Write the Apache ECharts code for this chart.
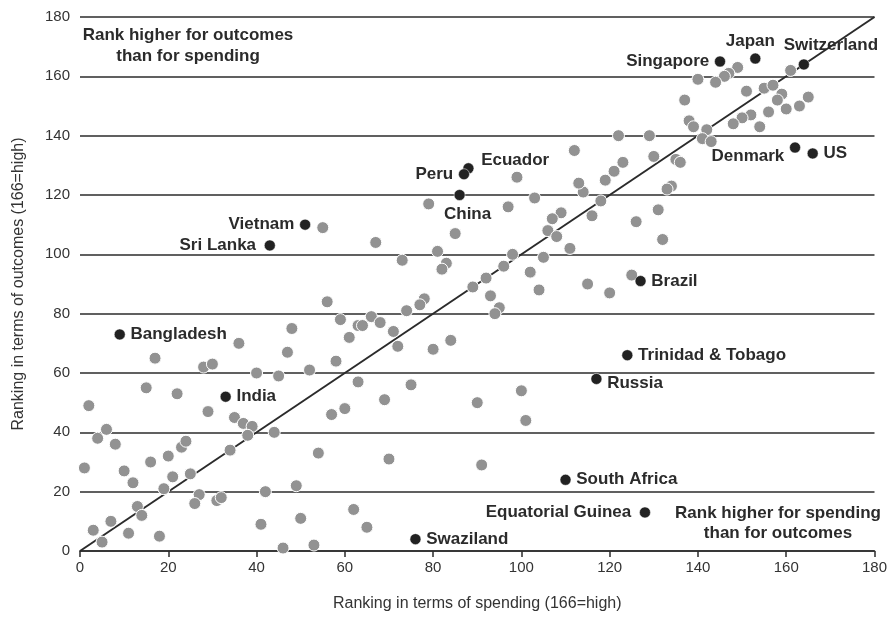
<!DOCTYPE html>
<html>
<head>
<meta charset="utf-8">
<script src="https://cdn.jsdelivr.net/npm/echarts@6/dist/echarts.min.js"></script>
<style>
  html, body { margin: 0; padding: 0; background: #fff; }
  #chart { width: 890px; height: 617px; }
</style>
</head>
<body>
<div id="chart"></div>
<script>
// spending rank vs outcome rank, unlabeled countries
const otherCountries = [
  [15, 55], [2, 49], [22, 53], [29, 47], [35, 45], [37, 43], [39, 42], [38, 39], [44, 40], [4, 38],
  [6, 41], [8, 36], [1, 28], [10, 27], [12, 23], [16, 30], [20, 32], [23, 35], [24, 37], [34, 34],
  [21, 25], [25, 26], [19, 21], [27, 19], [26, 16], [31, 17], [32, 18], [13, 15], [14, 12], [7, 10],
  [3, 7], [5, 3], [11, 6], [18, 5], [42, 20], [41, 9], [49, 22], [50, 11], [46, 1], [53, 2],
  [54, 33], [57, 46], [60, 48], [62, 14], [63, 57], [40, 60], [45, 59],
  [55, 109], [17, 65], [36, 70], [28, 62], [30, 63], [47, 67], [48, 75], [52, 61], [56, 84],
  [59, 78], [61, 72], [58, 64], [63, 76],
  [79, 117], [67, 104], [73, 98], [81, 101], [85, 107], [83, 97], [82, 95], [97, 116], [103, 119], [114, 121],
  [118, 118], [116, 113], [126, 111], [109, 114], [107, 112], [106, 108], [108, 106], [111, 102], [105, 99], [98, 100],
  [96, 96], [102, 94], [92, 92], [89, 89], [93, 86], [104, 88], [115, 90], [120, 87], [125, 93], [95, 82],
  [94, 80], [78, 85], [77, 83], [74, 81], [66, 79], [68, 77], [64, 76], [71, 74], [72, 69], [80, 68],
  [84, 71], [75, 56], [100, 54],
  [69, 51], [90, 50], [101, 44], [70, 31], [91, 29], [65, 8],
  [99, 126], [122, 140], [112, 135], [113, 124], [119, 125], [121, 128], [123, 131],
  [161, 162], [149, 163], [147, 161], [146, 160], [144, 158], [140, 159], [137, 152], [151, 155], [155, 156], [157, 157],
  [159, 154], [158, 152], [160, 149], [163, 150], [165, 153], [156, 148], [152, 147], [150, 146], [148, 144], [154, 143],
  [138, 145], [139, 143], [142, 142], [141, 139], [143, 138], [129, 140], [130, 133], [135, 132], [136, 131], [134, 123],
  [133, 122], [131, 115], [132, 105]
]

// labeled countries
const namedCountries = ['Singapore', 'Japan', 'Switzerland', 'Denmark', 'US', 'Ecuador', 'Peru', 'China', 'Vietnam',
  'Sri Lanka', 'Bangladesh', 'India', 'Brazil', 'Trinidad & Tobago', 'Russia', 'South Africa', 'Equatorial Guinea', 'Swaziland']
const namedSpending = [145, 153, 164, 162, 166, 88, 87, 86, 51, 43, 9, 33, 127, 124, 117, 110, 128, 76]
const namedOutcomes = [165, 166, 164, 136, 134, 129, 127, 120, 110, 103, 73, 52, 91, 66, 58, 24, 13, 4]
const namedLabelSide = ['left', 'top', 'top', 'left', 'right', 'right', 'left', 'bottom', 'left',
  'left', 'right', 'right', 'right', 'right', 'right', 'right', 'left', 'right']

// small nudges so labels sit like the original
const labelNudge = {
  'Switzerland': [27, 0],
  'Japan': [-5, 2],
  'Denmark': [0, 9],
  'Ecuador': [2, -8],
  'China': [8, 0],
  'Russia': [0, 4],
  'Sri Lanka': [-3, 0],
  'Equatorial Guinea': [-3, 0]
}

const FONT = 'Liberation Sans, Arial, Helvetica, sans-serif'
const INK = '#2b2b2b'

const chart = echarts.init(document.getElementById('chart'))

const namedData = namedCountries.map(function (name, i) {
  return {
    name: name,
    value: [namedSpending[i], namedOutcomes[i]],
    label: { position: namedLabelSide[i] }
  }
})

chart.setOption({
  animation: false,
  grid: { left: 80, right: 15, top: 17, bottom: 64 },
  xAxis: {
    type: 'value',
    min: 0,
    max: 180,
    interval: 20,
    name: 'Ranking in terms of spending (166=high)',
    nameLocation: 'middle',
    nameGap: 45,
    nameTextStyle: { fontFamily: FONT, fontSize: 16, color: '#333' },
    axisLine: { show: true, onZero: false, lineStyle: { color: INK, width: 1.5 } },
    axisTick: { show: true, inside: false, length: 6, lineStyle: { color: INK, width: 1.5 } },
    axisLabel: { fontFamily: FONT, fontSize: 15, color: '#333', margin: 9 },
    splitLine: { show: false }
  },
  yAxis: {
    type: 'value',
    min: 0,
    max: 180,
    interval: 20,
    name: 'Ranking in terms of outcomes (166=high)',
    nameLocation: 'middle',
    nameGap: 53,
    nameTextStyle: { fontFamily: FONT, fontSize: 16, color: '#333' },
    axisLine: { show: false },
    axisTick: { show: false },
    axisLabel: { fontFamily: FONT, fontSize: 15, color: '#333', margin: 10 },
    splitLine: { show: true, lineStyle: { color: INK, width: 1.5 } }
  },
  graphic: [
    {
      type: 'text',
      x: 188,
      y: 25,
      style: {
        text: 'Rank higher for outcomes\nthan for spending',
        align: 'center',
        verticalAlign: 'top',
        font: 'bold 17px ' + FONT,
        fill: INK,
        lineHeight: 21
      }
    },
    {
      type: 'text',
      x: 778,
      y: 503,
      style: {
        text: 'Rank higher for spending\nthan for outcomes',
        align: 'center',
        verticalAlign: 'top',
        font: 'bold 17px ' + FONT,
        fill: INK,
        lineHeight: 20
      }
    }
  ],
  series: [
    {
      name: 'equal rank',
      type: 'line',
      data: [[0, 0], [180, 180]],
      showSymbol: false,
      symbol: 'none',
      lineStyle: { color: INK, width: 2 },
      z: 1,
      silent: true
    },
    {
      name: 'other',
      type: 'scatter',
      data: otherCountries,
      symbolSize: 12,
      itemStyle: { color: '#929292', borderColor: '#fff', borderWidth: 1, opacity: 1 },
      z: 2
    },
    {
      name: 'named',
      type: 'scatter',
      data: namedData,
      symbolSize: 11,
      itemStyle: { color: '#222', borderColor: '#fff', borderWidth: 0.5, opacity: 1 },
      label: {
        show: true,
        formatter: '{b}',
        fontFamily: FONT,
        fontSize: 17,
        fontWeight: 'bold',
        color: INK,
        distance: 5
      },
      labelLayout: function (params) {
        const nudge = labelNudge[namedCountries[params.dataIndex]] || [0, 0]
        return { dx: nudge[0], dy: nudge[1], hideOverlap: false }
      },
      z: 3
    }
  ]
})
</script>
</body>
</html>
